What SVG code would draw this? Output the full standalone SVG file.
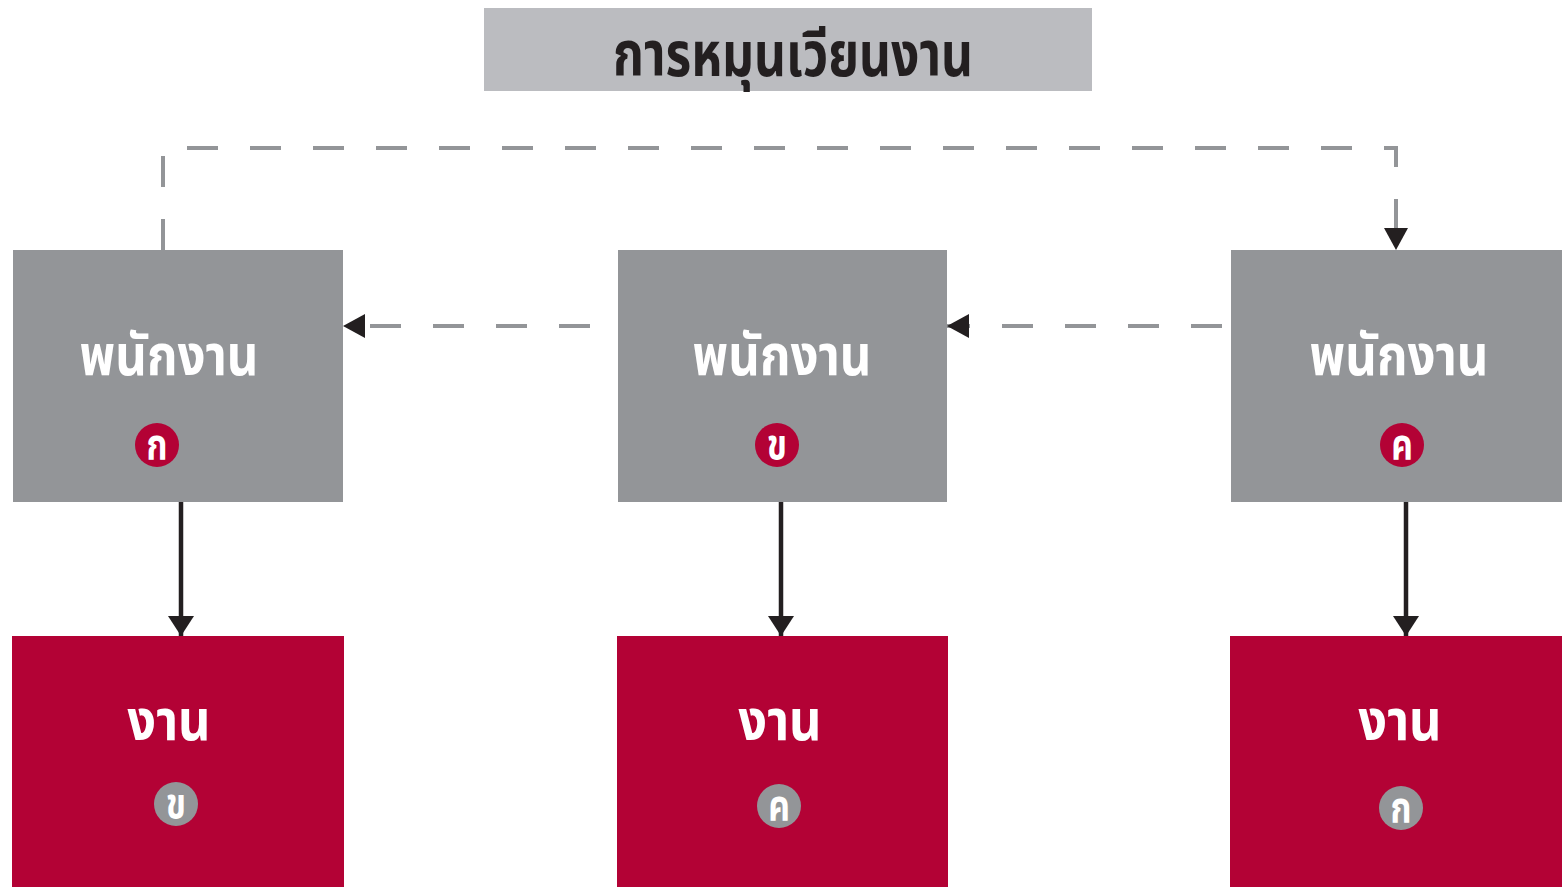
<svg xmlns="http://www.w3.org/2000/svg" width="1564" height="887" viewBox="0 0 1564 887">
<defs>
<style>
.t{font-family:"Noto Sans Thai","Noto Sans","DejaVu Sans",sans-serif;text-anchor:middle;}
.gbox{fill:#939598;}
.rbox{fill:#b30235;}
.lbl{fill:#ffffff;font-size:56px;font-weight:bold;}
.badge{fill:#ffffff;font-size:42px;font-weight:bold;}
.solid{stroke:#231f20;stroke-width:4.5;fill:none;}
.dash{stroke:#939598;stroke-width:4;fill:none;stroke-dasharray:31 32;}
</style>
<marker id="ah" viewBox="0 0 22 24" refX="22" refY="12" markerWidth="22" markerHeight="24" markerUnits="userSpaceOnUse" orient="auto">
<path d="M0,0 L22,12 L0,24 Z" fill="#231f20"/>
</marker>
<marker id="ahs" viewBox="0 0 20 26" refX="20" refY="13" markerWidth="20" markerHeight="26" markerUnits="userSpaceOnUse" orient="auto">
<path d="M0,0 L20,13 L0,26 Z" fill="#231f20"/>
</marker>
</defs>
<rect width="1564" height="887" fill="#ffffff"/>
<g id="title">
<rect x="484" y="8" width="608" height="83" fill="#bbbcc0"/>
<text class="t" transform="translate(793,76) scale(0.8,1)" font-size="62" font-weight="bold" fill="#231f20">การหมุนเวียนงาน</text>
</g>
<g id="connectors">
<path class="dash" d="M163,250 V148 H1396 V250" marker-end="url(#ah)"/>
<path class="dash" d="M590,326 H343" marker-end="url(#ah)"/>
<path class="dash" d="M1222,326 H947" marker-end="url(#ah)"/>
<path class="solid" d="M181,502 V636" marker-end="url(#ahs)"/>
<path class="solid" d="M781,502 V636" marker-end="url(#ahs)"/>
<path class="solid" d="M1406,502 V636" marker-end="url(#ahs)"/>
</g>
<g id="empA">
<rect class="gbox" x="13" y="250" width="330" height="252"/>
<text class="t lbl" transform="translate(169,375) scale(0.875,1)">พนักงาน</text>
<circle cx="157" cy="445" r="22" fill="#b30235"/>
<text class="t badge" transform="translate(157,459) scale(0.8,1)">ก</text>
</g>
<g id="empB">
<rect class="gbox" x="618" y="250" width="329" height="252"/>
<text class="t lbl" transform="translate(782,375) scale(0.875,1)">พนักงาน</text>
<circle cx="777" cy="445" r="22" fill="#b30235"/>
<text class="t badge" transform="translate(777,459) scale(0.8,1)">ข</text>
</g>
<g id="empC">
<rect class="gbox" x="1231" y="250" width="331" height="252"/>
<text class="t lbl" transform="translate(1399,375) scale(0.875,1)">พนักงาน</text>
<circle cx="1402" cy="445" r="22" fill="#b30235"/>
<text class="t badge" transform="translate(1402,459) scale(0.8,1)">ค</text>
</g>
<g id="jobB">
<rect class="rbox" x="12" y="636" width="332" height="251"/>
<text class="t lbl" transform="translate(169,740) scale(0.9,1)">งาน</text>
<circle cx="176" cy="804" r="22" fill="#939598"/>
<text class="t badge" transform="translate(176,818) scale(0.8,1)">ข</text>
</g>
<g id="jobC">
<rect class="rbox" x="617" y="636" width="331" height="251"/>
<text class="t lbl" transform="translate(780,740) scale(0.9,1)">งาน</text>
<circle cx="779" cy="806" r="22" fill="#939598"/>
<text class="t badge" transform="translate(779,820) scale(0.8,1)">ค</text>
</g>
<g id="jobA">
<rect class="rbox" x="1230" y="636" width="332" height="251"/>
<text class="t lbl" transform="translate(1400,740) scale(0.9,1)">งาน</text>
<circle cx="1401" cy="808" r="22" fill="#939598"/>
<text class="t badge" transform="translate(1401,822) scale(0.8,1)">ก</text>
</g>
</svg>
